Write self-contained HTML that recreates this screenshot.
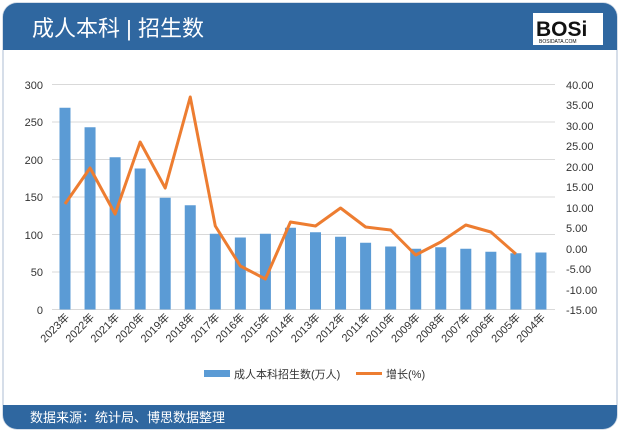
<!DOCTYPE html>
<html><head><meta charset="utf-8"><style>
body{margin:0;width:621px;height:434px;background:#fff;overflow:hidden;font-family:"Liberation Sans","Noto Sans CJK SC",sans-serif}
</style></head><body>
<svg width="621" height="434" xmlns="http://www.w3.org/2000/svg" font-family="Liberation Sans, Noto Sans CJK SC, sans-serif">
<rect x="3" y="3" width="614" height="426" rx="14" fill="#fff" stroke="#c8d4e2" stroke-width="1.5"/>
<path d="M3 50 V17 A14 14 0 0 1 17 3 H603 A14 14 0 0 1 617 17 V50 Z" fill="#2f67a0"/>
<path d="M3 405 H617 V415 A14 14 0 0 1 603 429 H17 A14 14 0 0 1 3 415 Z" fill="#2f67a0"/>
<text x="32" y="36" font-size="22" fill="#fff">成人本科 | 招生数</text>
<rect x="533" y="13" width="70" height="32" fill="#fff"/>
<text x="536" y="36" font-size="21" font-weight="bold" fill="#111">BOSi</text>
<text x="539" y="43" font-size="5" fill="#111">BOSIDATA.COM</text>
<text x="30" y="422" font-size="13" fill="#fff">数据来源：统计局、博思数据整理</text>
<g stroke="#d9d9d9" stroke-width="1">
<line x1="52" y1="84.5" x2="555" y2="84.5"/><line x1="52" y1="122" x2="555" y2="122"/><line x1="52" y1="159.5" x2="555" y2="159.5"/><line x1="52" y1="197" x2="555" y2="197"/><line x1="52" y1="234.5" x2="555" y2="234.5"/><line x1="52" y1="272" x2="555" y2="272"/><line x1="52" y1="309.5" x2="555" y2="309.5"/>
</g>
<g font-size="11" fill="#333" text-anchor="end">
<text x="43" y="89">300</text><text x="43" y="126">250</text><text x="43" y="164">200</text><text x="43" y="201">150</text><text x="43" y="239">100</text><text x="43" y="276">50</text><text x="43" y="314">0</text>
</g>
<g font-size="11" fill="#333">
<text x="566" y="89">40.00</text><text x="566" y="109">35.00</text><text x="566" y="130">30.00</text><text x="566" y="150">25.00</text><text x="566" y="171">20.00</text><text x="566" y="191">15.00</text><text x="566" y="212">10.00</text><text x="566" y="232">5.00</text><text x="566" y="253">0.00</text><text x="566" y="273">-5.00</text><text x="566" y="294">-10.00</text><text x="566" y="314">-15.00</text>
</g>
<g fill="#5b9bd5" id="bars"></g>
<g id="labels" font-size="11" fill="#333"></g>
<polyline id="ln" fill="none" stroke="#ed7d31" stroke-width="3" stroke-linejoin="round"/>
<rect x="204" y="370" width="26" height="7" fill="#5b9bd5"/>
<text x="234" y="378" font-size="11" fill="#333">成人本科招生数(万人)</text>
<line x1="356" y1="373.5" x2="382" y2="373.5" stroke="#ed7d31" stroke-width="3"/>
<text x="386" y="378" font-size="11" fill="#333">增长(%)</text>
</svg>
<script>
var v=[269,243,203,188,149,139,101,96,101,109,103,97,89,84,81,83,81,77,75,76];
var ly=[204,168,214,142,188,97,226,266,279,222,226,208,227,230,255,242,225,232,254];
var b='',l='',p=[];
for(var i=0;i<20;i++){var cx=65+i*25.05;var h=v[i]*0.75;
b+='<rect x="'+(cx-5.5)+'" y="'+(309.5-h)+'" width="11" height="'+h+'"/>';
l+='<text transform="translate('+(cx+5)+',318) rotate(-45)" text-anchor="end">'+(2023-i)+'年</text>';
if(i<19)p.push(cx+','+ly[i]);}
document.getElementById('bars').innerHTML=b;
document.getElementById('labels').innerHTML=l;
document.getElementById('ln').setAttribute('points',p.join(' '));
</script>
</body></html>
